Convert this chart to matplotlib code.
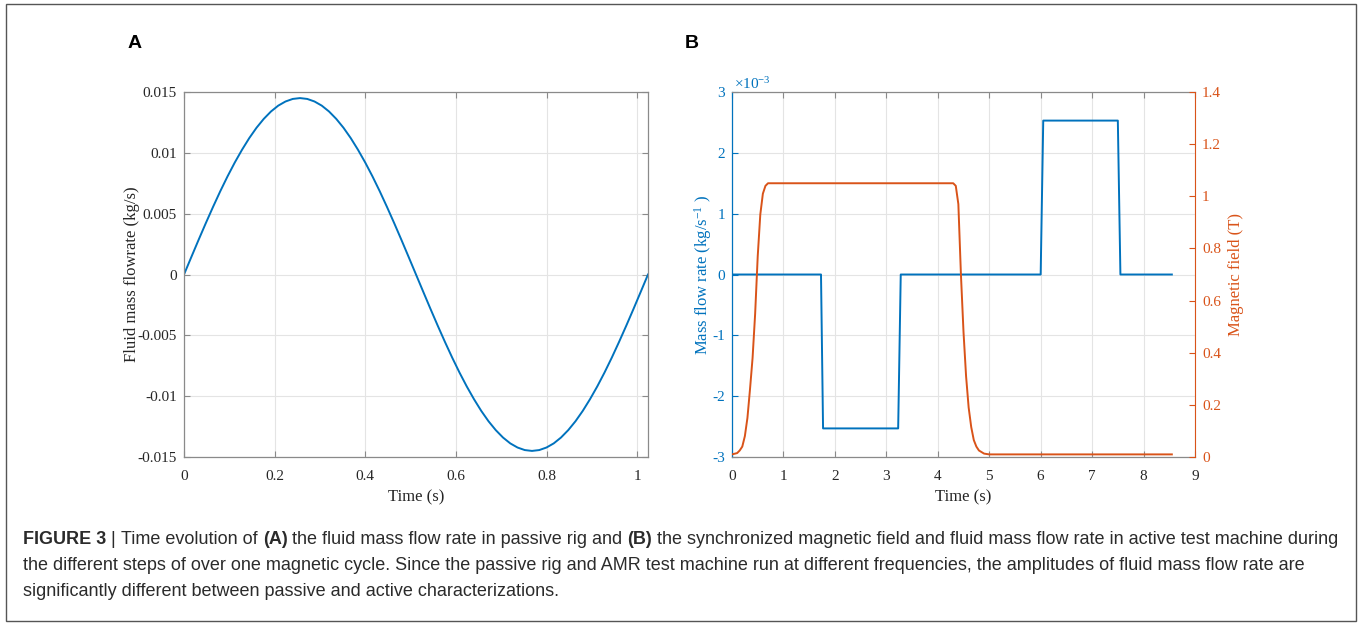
import matplotlib
matplotlib.use("Agg")
import matplotlib.pyplot as plt
from matplotlib.patches import Rectangle
from matplotlib.ticker import FuncFormatter

plt.rcParams['font.family'] = ['Liberation Serif', 'DejaVu Serif']
plt.rcParams['axes.unicode_minus'] = False
plt.rcParams['mathtext.fontset'] = 'custom'
plt.rcParams['mathtext.rm'] = 'Liberation Serif'
plt.rcParams['mathtext.it'] = 'Liberation Serif:italic'
plt.rcParams['mathtext.bf'] = 'Liberation Serif:bold'

BLUE = '#0072BD'
ORANGE = '#D95319'
SPINE = '#8a8a8a'
GRID = '#e4e4e4'
TXT = '#262626'

# ---- panel A: passive rig flow rate
time_a = [0.000, 0.016, 0.032, 0.048, 0.064, 0.080, 0.096, 0.112, 0.128,
          0.144, 0.160, 0.176, 0.192, 0.208, 0.224, 0.240, 0.256,
          0.272, 0.288, 0.304, 0.320, 0.336, 0.352, 0.368, 0.384,
          0.400, 0.416, 0.432, 0.448, 0.464, 0.480, 0.496, 0.512,
          0.528, 0.544, 0.560, 0.576, 0.592, 0.608, 0.624, 0.640,
          0.656, 0.672, 0.688, 0.704, 0.720, 0.736, 0.752, 0.768,
          0.784, 0.800, 0.816, 0.832, 0.848, 0.864, 0.880, 0.896,
          0.912, 0.928, 0.944, 0.960, 0.976, 0.992, 1.008, 1.024]
flow_a = [0.0, 0.00142, 0.00283, 0.00421, 0.00555, 0.00684, 0.00806, 0.00920, 0.01025,
          0.01121, 0.01206, 0.01279, 0.01340, 0.01388, 0.01422, 0.01443, 0.01450,
          0.01443, 0.01422, 0.01388, 0.01340, 0.01279, 0.01206, 0.01121, 0.01025,
          0.00920, 0.00806, 0.00684, 0.00555, 0.00421, 0.00283, 0.00142, 0.0,
          -0.00142, -0.00283, -0.00421, -0.00555, -0.00684, -0.00806, -0.00920, -0.01025,
          -0.01121, -0.01206, -0.01279, -0.01340, -0.01388, -0.01422, -0.01443, -0.01450,
          -0.01443, -0.01422, -0.01388, -0.01340, -0.01279, -0.01206, -0.01121, -0.01025,
          -0.00920, -0.00806, -0.00684, -0.00555, -0.00421, -0.00283, -0.00142, 0.0]
xticks_a = [0, 0.2, 0.4, 0.6, 0.8, 1]
xlabels_a = ['0', '0.2', '0.4', '0.6', '0.8', '1']
yticks_a = [-0.015, -0.01, -0.005, 0, 0.005, 0.01, 0.015]
ylabels_a = ['-0.015', '-0.01', '-0.005', '0', '0.005', '0.01', '0.015']

# ---- panel B: active machine flow rate and magnetic field
time_flow_b = [0, 1.73, 1.77, 3.23, 3.28, 6.0, 6.05, 7.5, 7.55, 8.55]
flow_b = [0, 0, -2.53e-3, -2.53e-3, 0, 0, 2.53e-3, 2.53e-3, 0, 0]
time_field_b = [0, 0.1, 0.15, 0.2, 0.25, 0.3, 0.35, 0.4, 0.45, 0.5, 0.55, 0.6, 0.65, 0.7, 0.75,
                4.3, 4.35, 4.4, 4.45, 4.5, 4.55, 4.6, 4.65, 4.7, 4.75, 4.8, 4.9, 5.0, 8.55]
field_b = [0.01, 0.015, 0.025, 0.04, 0.08, 0.15, 0.26, 0.38, 0.55, 0.77, 0.93, 1.01, 1.04, 1.05, 1.05,
           1.05, 1.04, 0.97, 0.70, 0.48, 0.31, 0.19, 0.115, 0.065, 0.04, 0.025, 0.013, 0.01, 0.01]
xticks_b = list(range(10))
yticks_b = [-3e-3, -2e-3, -1e-3, 0, 1e-3, 2e-3, 3e-3]
yticks_b2 = [0, 0.2, 0.4, 0.6, 0.8, 1.0, 1.2, 1.4]
ylabels_b2 = ['0', '0.2', '0.4', '0.6', '0.8', '1', '1.2', '1.4']

fig = plt.figure(figsize=(13.63, 6.25), dpi=100)
W, H = 1363, 625


def box(l, t, r, b):
    return [l / W, 1 - b / H, (r - l) / W, (b - t) / H]


def style(ax):
    ax.grid(True, color=GRID, linewidth=0.8)
    ax.set_axisbelow(True)
    for s in ax.spines.values():
        s.set_color(SPINE)
        s.set_linewidth(0.9)
    ax.tick_params(direction='in', length=4, width=0.8, color=SPINE,
                   labelsize=11, labelcolor=TXT, top=True, right=True)
    ax.tick_params(axis='x', pad=9)
    ax.tick_params(axis='y', pad=5)


# panel A
ax1 = fig.add_axes(box(184, 92, 648, 457))
ax1.plot(time_a, flow_a, color=BLUE, linewidth=1.4)
ax1.set_xlim(0, 1.024)
ax1.set_ylim(-0.015, 0.015)
ax1.set_xticks(xticks_a, xlabels_a)
ax1.set_yticks(yticks_a, ylabels_a)
style(ax1)
ax1.set_xlabel('Time (s)', fontsize=12, color=TXT, labelpad=5)
ax1.set_ylabel('Fluid mass flowrate (kg/s)', fontsize=12, color=TXT, labelpad=-2)

# panel B
ax2 = fig.add_axes(box(732, 92, 1195, 457))
ax2.plot(time_flow_b, flow_b, color=BLUE, linewidth=1.4)
ax2.set_xlim(0, 9)
ax2.set_ylim(-3e-3, 3e-3)
ax2.set_xticks(xticks_b)
ax2.set_yticks(yticks_b)
ax2.yaxis.set_major_formatter(FuncFormatter(lambda v, p: '%g' % round(v * 1e3, 6)))
style(ax2)
ax2.tick_params(axis='y', right=False, colors=BLUE, labelcolor=BLUE)
ax2.spines['left'].set_color(BLUE)
ax2.spines['right'].set_visible(False)
ax2.set_xlabel('Time (s)', fontsize=12, color=TXT, labelpad=5)
ax2.set_ylabel('Mass flow rate (kg/s$^{-1}$ )', fontsize=12, color=BLUE, labelpad=-1)
ax2.text(0.005, 1.0, r'$\times$10$^{-3}$', transform=ax2.transAxes, color=BLUE,
         fontsize=11, ha='left', va='bottom')

ax3 = ax2.twinx()
ax3.plot(time_field_b, field_b, color=ORANGE, linewidth=1.4)
ax3.set_ylim(0, 1.4)
ax3.set_yticks(yticks_b2, ylabels_b2)
for s in ax3.spines.values():
    s.set_visible(False)
ax3.spines['right'].set_visible(True)
ax3.spines['right'].set_color(ORANGE)
ax3.tick_params(axis='y', direction='in', length=4, width=0.8, colors=ORANGE,
                labelcolor=ORANGE, labelsize=11, pad=5)
ax3.set_ylabel('Magnetic field (T)', fontsize=12, color=ORANGE, labelpad=5)

# panel letters
fig.text(135 / W, 1 - 43 / H, 'A', fontsize=14, fontweight='bold',
         family='Liberation Sans', ha='center', va='center')
fig.text(692 / W, 1 - 43 / H, 'B', fontsize=14, fontweight='bold',
         family='Liberation Sans', ha='center', va='center')

# caption, placed piece by piece so bold parts can sit inline
caption = [
    [('FIGURE 3', 'bold'), (' | ', 'normal'), ('Time evolution of ', 'normal'), ('(A)', 'bold'),
     (' the fluid mass flow rate in passive rig and ', 'normal'), ('(B)', 'bold'),
     (' the synchronized magnetic field and fluid mass flow rate in active test machine during', 'normal')],
    [('the different steps of over one magnetic cycle. Since the passive rig and AMR test machine '
      'run at different frequencies, the amplitudes of fluid mass flow rate are', 'normal')],
    [('significantly different between passive and active characterizations.', 'normal')],
]
renderer = fig.canvas.get_renderer()
y = 540
for line in caption:
    x = 23
    for piece, weight in line:
        t = fig.text(x / W, 1 - y / H, piece, fontsize=13.0, fontweight=weight,
                     family='Liberation Sans', color='#2b2b2b', va='center', ha='left')
        x += t.get_window_extent(renderer).width
    y += 26

fig.patches.append(Rectangle((6 / W, 4 / H), 1350 / W, 617 / H, transform=fig.transFigure,
                             fill=False, edgecolor='#555555', linewidth=1.0))

fig.savefig('out.png', dpi=100)
